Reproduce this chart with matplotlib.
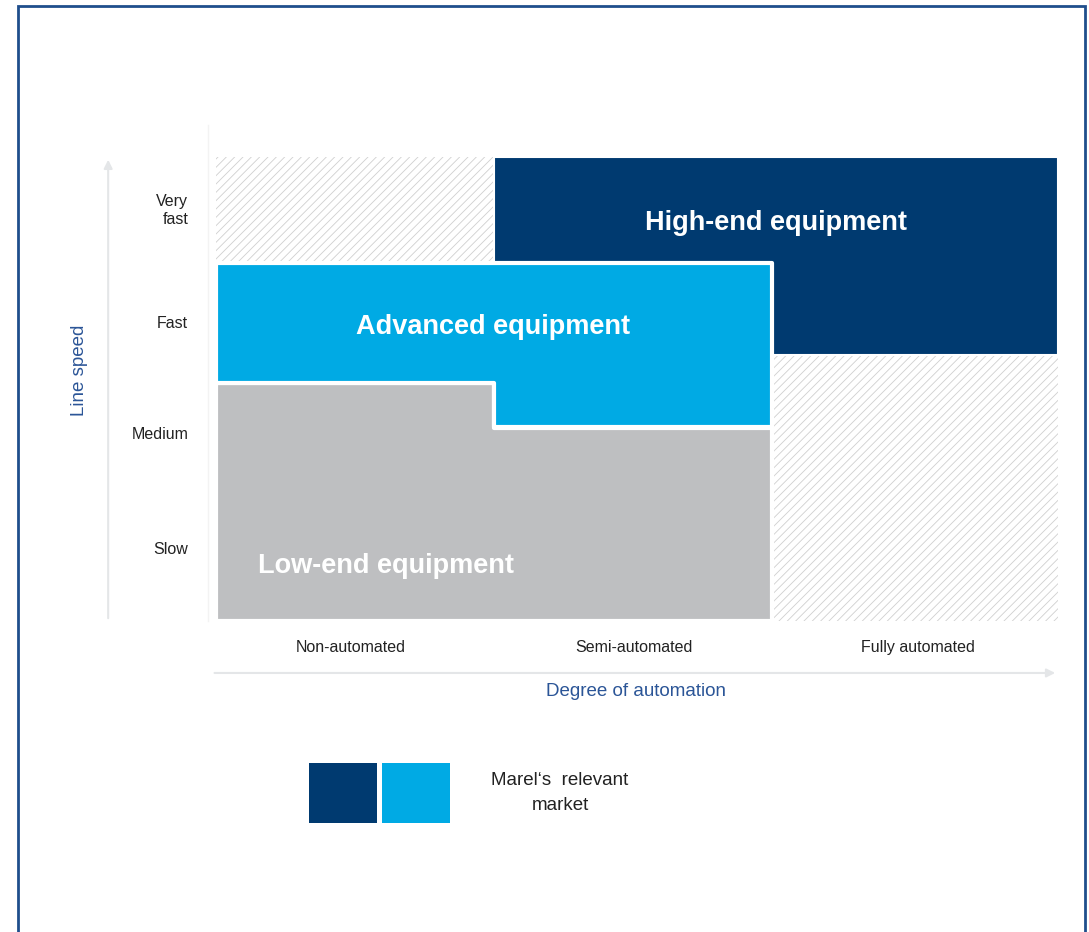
import matplotlib.pyplot as plt
from matplotlib.patches import Rectangle

plt.rcParams['font.family'] = ['Liberation Sans', 'DejaVu Sans']
plt.rcParams['hatch.linewidth'] = 0.6

# columns = degree of automation, rows = line speed
automation = ["Non-automated", "Semi-automated", "Fully automated"]
automation_pos = [0.48, 1.49, 2.5]
col_edges = [0, 0.99, 1.98, 3]
speed_labels = ["Slow", "Medium", "Fast", "Very\nfast"]
speed_pos = [0.63, 1.62, 2.58, 3.56]

# segments: first column, lower and upper bound per column
low_start = 0
low_lower = [0, 0]
low_upper = [2.05, 1.66]
adv_start = 0
adv_lower = [2.05, 1.67]
adv_upper = [3.09, 3.09]
high_start = 1
high_lower = [2.29, 2.29]
high_upper = [4, 4]
# areas outside the market
empty_cols = [0, 2]
empty_lower = [3.09, 0]
empty_upper = [4, 2.29]

navy = "#003A70"
cyan = "#00AAE4"
grey = "#BEBFC1"
blue_txt = "#2B5597"

fig = plt.figure(figsize=(10.89, 9.32), dpi=100)
ax = fig.add_axes([0.1983, 0.3337, 0.7732, 0.4979])
ax.set_xlim(0, 3)
ax.set_ylim(0, 4)


def step_fill(start, lower, upper, color, z, lw=3):
    xs = col_edges[start:start + len(lower) + 1]
    ax.fill_between(xs, lower + [lower[-1]], upper + [upper[-1]], step='post',
                    facecolor=color, edgecolor='white', linewidth=lw, zorder=z)


for c, lo, up in zip(empty_cols, empty_lower, empty_upper):
    ax.fill_between(col_edges[c:c + 2], [lo, lo], [up, up], facecolor='white',
                    edgecolor='#CFCFCF', hatch='////', linewidth=0, zorder=1)

step_fill(high_start, high_lower, high_upper, navy, 2, lw=1.5)
step_fill(low_start, low_lower, low_upper, grey, 3)
step_fill(adv_start, adv_lower, adv_upper, cyan, 4)

ax.text(1.995, 3.43, "High-end equipment", color='white', fontsize=19.5,
        fontweight='bold', ha='center', va='center', zorder=5)
ax.text(0.987, 2.53, "Advanced equipment", color='white', fontsize=19.5,
        fontweight='bold', ha='center', va='center', zorder=5)
ax.text(0.606, 0.47, "Low-end equipment", color='white', fontsize=19.5,
        fontweight='bold', ha='center', va='center', zorder=5)

ax.set_xticks(automation_pos)
ax.set_xticklabels(automation, fontsize=11.5, color='#222222')
ax.set_yticks(speed_pos)
ax.set_yticklabels(speed_labels, fontsize=11.5, color='#222222', ha='right')
ax.tick_params(axis='x', length=0, pad=14)
ax.tick_params(axis='y', length=0, pad=20)
for s in ax.spines.values():
    s.set_visible(False)

# axis arrows
ax.annotate("", xy=(-0.128, 1.0), xytext=(-0.128, 0.0), xycoords='axes fraction',
            arrowprops=dict(arrowstyle='-|>,head_length=0.5,head_width=0.25',
                            color='#E4E6E8', lw=1.5), annotation_clip=False)
ax.annotate("", xy=(1.0, -0.112), xytext=(-0.005, -0.112), xycoords='axes fraction',
            arrowprops=dict(arrowstyle='-|>,head_length=0.5,head_width=0.25',
                            color='#E4E6E8', lw=1.5), annotation_clip=False)
ax.plot([-0.0095, -0.0095], [0, 1.069], transform=ax.transAxes, color='#F3F3F3',
        lw=1, clip_on=False)

fig.text(636 / 1089, 1 - 692 / 932, "Degree of automation", color=blue_txt,
         fontsize=13.5, ha='center', va='center')
fig.text(80 / 1089, 1 - 370 / 932, "Line speed", color=blue_txt, fontsize=13.5,
         rotation=90, ha='center', va='center')

# legend swatches
fig.patches.append(Rectangle((309 / 1089, 1 - 823 / 932), 68 / 1089, 60 / 932,
                             transform=fig.transFigure, facecolor=navy, edgecolor='none'))
fig.patches.append(Rectangle((382 / 1089, 1 - 823 / 932), 68 / 1089, 60 / 932,
                             transform=fig.transFigure, facecolor=cyan, edgecolor='none'))
fig.text(560 / 1089, 1 - 793 / 932, "Marel\u2018s  relevant\nmarket", fontsize=13.5,
         ha='center', va='center', color='#222222', linespacing=1.55)

# frame
fig.patches.append(Rectangle((18 / 1089, -0.02), 1067 / 1089, 1.02 - 6 / 932,
                             transform=fig.transFigure, facecolor='none',
                             edgecolor='#1F4E8C', linewidth=2))

fig.savefig("out.png", dpi=100)
